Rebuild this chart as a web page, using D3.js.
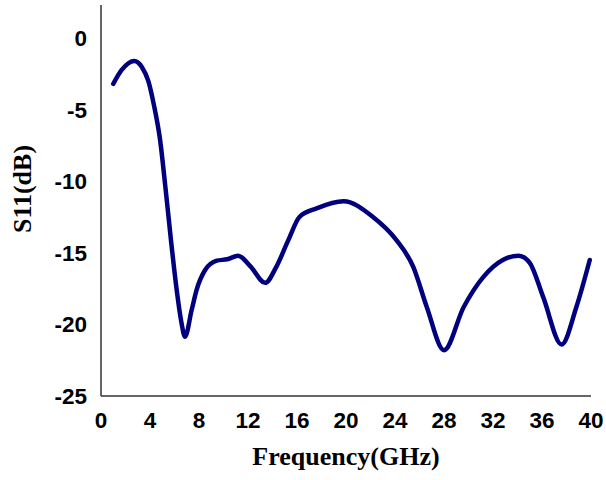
<!DOCTYPE html>
<html><head><meta charset="utf-8">
<script src="https://cdn.jsdelivr.net/npm/d3@7"></script>
<style>body{margin:0;background:#fff}</style>
</head><body>
<svg id="c" width="606" height="480"></svg>
<script>
const freq = [1, 1.69, 2.72, 3.32, 3.86, 4.3, 4.82, 5.28, 5.71, 6.18, 6.53, 6.86, 7.4, 7.8, 8.5, 9.45, 10.3, 11.2, 12.2, 13.4, 14.3, 15.3, 16.2, 17.6, 19.8, 22.2, 24.1, 25.5, 26.6, 28, 29.6, 31.2, 32.8, 34.1, 35, 36.1, 37.6, 38.8, 39.9];
const s11  = [-3.2, -2.23, -1.6, -2.0, -3.0, -4.6, -7.1, -10.6, -14.1, -17.6, -19.7, -20.86, -19.0, -17.6, -16.2, -15.55, -15.45, -15.2, -15.95, -17.1, -16.0, -14.1, -12.5, -11.9, -11.4, -12.5, -14.1, -16.0, -18.8, -21.8, -18.8, -16.7, -15.5, -15.2, -15.7, -18.1, -21.4, -18.8, -15.5];
const xTicks = [0, 4, 8, 12, 16, 20, 24, 28, 32, 36, 40];
const yTicks = [0, -5, -10, -15, -20, -25];

const svg = d3.select("#c");
const x = d3.scaleLinear().domain([0, 40]).range([101, 591]);
const y = d3.scaleLinear().domain([-25, 0]).range([396, 38]);

svg.append("line").attr("x1",101).attr("x2",101).attr("y1",5).attr("y2",396)
  .attr("stroke","#333").attr("stroke-width",1.5);
svg.append("line").attr("x1",101).attr("x2",591).attr("y1",396).attr("y2",396)
  .attr("stroke","#333").attr("stroke-width",1.5);

const tf = "'Liberation Sans', Arial, sans-serif";
svg.append("g").selectAll("text").data(xTicks).join("text")
  .attr("x", d => x(d)).attr("y", 428)
  .attr("text-anchor","middle")
  .attr("font-family", tf).attr("font-weight","bold").attr("font-size",22.5)
  .text(d => d);
svg.append("g").selectAll("text").data(yTicks).join("text")
  .attr("x", 87).attr("y", d => y(d) + 8)
  .attr("text-anchor","end")
  .attr("font-family", tf).attr("font-weight","bold").attr("font-size",22.5)
  .text(d => d);

const sf = "'Liberation Serif', 'Times New Roman', serif";
svg.append("text").attr("x",346).attr("y",465).attr("text-anchor","middle")
  .attr("font-family", sf).attr("font-weight","bold").attr("font-size",26)
  .text("Frequency(GHz)");
svg.append("text").attr("transform","translate(31,189) rotate(-90)").attr("text-anchor","middle")
  .attr("font-family", sf).attr("font-weight","bold").attr("font-size",26)
  .text("S11(dB)");

const data = freq.map((f,i)=>[f, s11[i]]);
const line = d3.line().x(d=>x(d[0])).y(d=>y(d[1])).curve(d3.curveMonotoneX);
svg.append("path").datum(data).attr("d", line)
  .attr("fill","none").attr("stroke","#00007f").attr("stroke-width",4.5)
  .attr("stroke-linecap","round").attr("stroke-linejoin","round");
</script>
</body></html>
